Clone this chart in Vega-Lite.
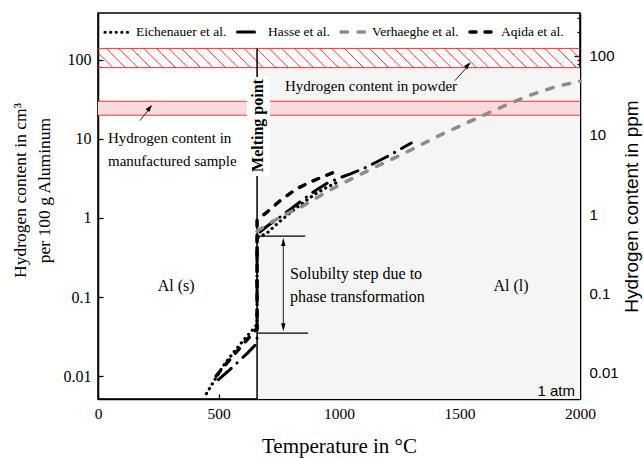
{
  "$schema": "https://vega.github.io/schema/vega-lite/v6.json",
  "width": 482,
  "height": 386,
  "autosize": {"type": "none"},
  "padding": {"left": 98, "top": 13, "right": 64, "bottom": 59},
  "background": "white",
  "config": {
    "view": {"stroke": "black", "strokeWidth": 1.5},
    "axis": {"grid": false, "ticks": true, "zindex": 1, "domainColor": "black", "domainWidth": 1.5, "tickColor": "black", "tickWidth": 1.3, "labelColor": "black", "titleColor": "black", "labelFont": "Liberation Serif", "titleFont": "Liberation Serif", "titleFontWeight": "normal"}
  },
  "layer": [
    {
      "encoding": {
        "x": {"field": "t", "type": "quantitative", "scale": {"domain": [0, 2000], "nice": false, "zero": false},
          "axis": {"values": [0, 500, 1000, 1500, 2000], "format": "d", "ticks": true, "tickSize": -5, "labelPadding": 12, "labelFontSize": 15.5, "labelFlush": false, "title": "Temperature in °C", "titleFontSize": 21, "titlePadding": 14}},
        "y": {"field": "v", "type": "quantitative", "scale": {"type": "log", "domain": [0.00512, 393], "nice": false},
          "axis": {"orient": "left", "values": [0.01, 0.1, 1, 10, 100], "format": "~g", "ticks": true, "tickSize": -5, "labelPadding": 12, "labelFontSize": 16, "title": ["Hydrogen content in cm³", "per 100 g Aluminum"], "titleFontSize": 17.5, "titleLineHeight": 24, "titlePadding": 10, "titleY": 177}}
      },
      "layer": [
        {
          "data": {"values": [{"t": 660, "t2": 2000, "v": 0.00512, "v2": 80}]},
          "mark": {"type": "rect", "fill": "#f5f5f5"},
          "encoding": {"x2": {"field": "t2"}, "y2": {"field": "v2"}}
        },
        {
          "data": {"values": [{"t": 0, "t2": 2000, "v": 20, "v2": 30}]},
          "mark": {"type": "rect", "fill": "#fadada"},
          "encoding": {"x2": {"field": "t2"}, "y2": {"field": "v2"}}
        },
        {
          "data": {"values": [
            {"t": -70, "t2": 10, "v": 140, "v2": 80}, {"t": -18, "t2": 62, "v": 140, "v2": 80}, {"t": 34, "t2": 114, "v": 140, "v2": 80}, {"t": 86, "t2": 166, "v": 140, "v2": 80},
            {"t": 138, "t2": 218, "v": 140, "v2": 80}, {"t": 190, "t2": 270, "v": 140, "v2": 80}, {"t": 242, "t2": 322, "v": 140, "v2": 80}, {"t": 294, "t2": 374, "v": 140, "v2": 80},
            {"t": 346, "t2": 426, "v": 140, "v2": 80}, {"t": 398, "t2": 478, "v": 140, "v2": 80}, {"t": 450, "t2": 530, "v": 140, "v2": 80}, {"t": 502, "t2": 582, "v": 140, "v2": 80},
            {"t": 554, "t2": 634, "v": 140, "v2": 80}, {"t": 606, "t2": 686, "v": 140, "v2": 80}, {"t": 658, "t2": 738, "v": 140, "v2": 80}, {"t": 710, "t2": 790, "v": 140, "v2": 80},
            {"t": 762, "t2": 842, "v": 140, "v2": 80}, {"t": 814, "t2": 894, "v": 140, "v2": 80}, {"t": 866, "t2": 946, "v": 140, "v2": 80}, {"t": 918, "t2": 998, "v": 140, "v2": 80},
            {"t": 970, "t2": 1050, "v": 140, "v2": 80}, {"t": 1022, "t2": 1102, "v": 140, "v2": 80}, {"t": 1074, "t2": 1154, "v": 140, "v2": 80}, {"t": 1126, "t2": 1206, "v": 140, "v2": 80},
            {"t": 1178, "t2": 1258, "v": 140, "v2": 80}, {"t": 1230, "t2": 1310, "v": 140, "v2": 80}, {"t": 1282, "t2": 1362, "v": 140, "v2": 80}, {"t": 1334, "t2": 1414, "v": 140, "v2": 80},
            {"t": 1386, "t2": 1466, "v": 140, "v2": 80}, {"t": 1438, "t2": 1518, "v": 140, "v2": 80}, {"t": 1490, "t2": 1570, "v": 140, "v2": 80}, {"t": 1542, "t2": 1622, "v": 140, "v2": 80},
            {"t": 1594, "t2": 1674, "v": 140, "v2": 80}, {"t": 1646, "t2": 1726, "v": 140, "v2": 80}, {"t": 1698, "t2": 1778, "v": 140, "v2": 80}, {"t": 1750, "t2": 1830, "v": 140, "v2": 80},
            {"t": 1802, "t2": 1882, "v": 140, "v2": 80}, {"t": 1854, "t2": 1934, "v": 140, "v2": 80}, {"t": 1906, "t2": 1986, "v": 140, "v2": 80}, {"t": 1958, "t2": 2038, "v": 140, "v2": 80}
          ]},
          "mark": {"type": "rule", "color": "#ff3333", "strokeWidth": 1, "clip": true},
          "encoding": {"x2": {"field": "t2"}, "y2": {"field": "v2"}}
        },
        {
          "data": {"values": [{"t": 0, "t2": 2000, "v": 20}, {"t": 0, "t2": 2000, "v": 30}, {"t": 0, "t2": 2000, "v": 80}, {"t": 0, "t2": 2000, "v": 140}]},
          "mark": {"type": "rule", "color": "#ff3333", "strokeWidth": 1},
          "encoding": {"x2": {"field": "t2"}}
        },
        {
          "data": {"values": [{"t": 660, "v": 0.00512, "v2": 140}]},
          "mark": {"type": "rule", "color": "black", "strokeWidth": 1.5},
          "encoding": {"y2": {"field": "v2"}}
        },
        {
          "data": {"values": [{"t": 618, "t2": 714, "v": 3.4, "v2": 61}]},
          "mark": {"type": "rect", "fill": "white"},
          "encoding": {"x2": {"field": "t2"}, "y2": {"field": "v2"}}
        },
        {
          "data": {"values": [{"t": 664, "v": 14.8, "label": "Melting point"}]},
          "mark": {"type": "text", "angle": 270, "font": "Liberation Serif", "fontWeight": "bold", "fontSize": 16, "align": "center", "baseline": "middle", "color": "black"},
          "encoding": {"text": {"field": "label"}}
        },
        {
          "data": {"values": [{"t": 660, "t2": 860, "v": 0.59}, {"t": 660, "t2": 872, "v": 0.035}]},
          "mark": {"type": "rule", "color": "black", "strokeWidth": 1.2},
          "encoding": {"x2": {"field": "t2"}}
        },
        {
          "data": {"values": [
            {"t": 769, "v": 0.04, "t2": 769, "v2": 0.52},
            {"t": 1481, "v": 54.7, "t2": 1544, "v2": 90},
            {"t": 174, "v": 17.1, "t2": 222, "v2": 26}
          ]},
          "mark": {"type": "rule", "color": "#222222", "strokeWidth": 1},
          "encoding": {"x2": {"field": "t2"}, "y2": {"field": "v2"}}
        },
        {
          "data": {"values": [{"t": 769, "v": 0.56}]},
          "mark": {"type": "point", "shape": "M0,0 L0.28,1 L-0.28,1 Z", "filled": true, "color": "black", "opacity": 1, "size": 256, "angle": 0},
          "encoding": {}
        },
        {
          "data": {"values": [{"t": 769, "v": 0.037}]},
          "mark": {"type": "point", "shape": "M0,0 L0.28,1 L-0.28,1 Z", "filled": true, "color": "black", "opacity": 1, "size": 256, "angle": 180},
          "encoding": {}
        },
        {
          "data": {"values": [{"t": 1544, "v": 93.5}]},
          "mark": {"type": "point", "shape": "M0,0 L0.35,1 L-0.35,1 Z", "filled": true, "color": "black", "opacity": 1, "size": 196, "angle": 39},
          "encoding": {}
        },
        {
          "data": {"values": [{"t": 223, "v": 26.9}]},
          "mark": {"type": "point", "shape": "M0,0 L0.35,1 L-0.35,1 Z", "filled": true, "color": "black", "opacity": 1, "size": 196, "angle": 37},
          "encoding": {}
        },
        {
          "data": {"values": [
            {"study": "Eichenauer et al.", "i": 1, "t": 450, "v": 0.0060},
            {"study": "Eichenauer et al.", "i": 2, "t": 480, "v": 0.0085},
            {"study": "Eichenauer et al.", "i": 3, "t": 520, "v": 0.0135},
            {"study": "Eichenauer et al.", "i": 4, "t": 560, "v": 0.0195},
            {"study": "Eichenauer et al.", "i": 5, "t": 600, "v": 0.0275},
            {"study": "Eichenauer et al.", "i": 6, "t": 640, "v": 0.038},
            {"study": "Eichenauer et al.", "i": 7, "t": 660, "v": 0.045},
            {"study": "Eichenauer et al.", "i": 8, "t": 660, "v": 0.56},
            {"study": "Eichenauer et al.", "i": 9, "t": 700, "v": 0.64},
            {"study": "Eichenauer et al.", "i": 10, "t": 750, "v": 0.88},
            {"study": "Eichenauer et al.", "i": 11, "t": 800, "v": 1.18},
            {"study": "Eichenauer et al.", "i": 12, "t": 850, "v": 1.55},
            {"study": "Eichenauer et al.", "i": 13, "t": 900, "v": 2.0},
            {"study": "Eichenauer et al.", "i": 14, "t": 950, "v": 2.45},
            {"study": "Eichenauer et al.", "i": 15, "t": 1000, "v": 2.9},
            {"study": "Hasse et al.", "i": 1, "t": 500, "v": 0.0090},
            {"study": "Hasse et al.", "i": 2, "t": 540, "v": 0.0115},
            {"study": "Hasse et al.", "i": 3, "t": 580, "v": 0.0150},
            {"study": "Hasse et al.", "i": 4, "t": 620, "v": 0.0195},
            {"study": "Hasse et al.", "i": 5, "t": 660, "v": 0.026},
            {"study": "Hasse et al.", "i": 6, "t": 660, "v": 0.62},
            {"study": "Hasse et al.", "i": 7, "t": 700, "v": 0.78},
            {"study": "Hasse et al.", "i": 8, "t": 750, "v": 1.0},
            {"study": "Hasse et al.", "i": 9, "t": 800, "v": 1.3},
            {"study": "Hasse et al.", "i": 10, "t": 850, "v": 1.7},
            {"study": "Hasse et al.", "i": 11, "t": 900, "v": 2.2},
            {"study": "Hasse et al.", "i": 12, "t": 950, "v": 2.75},
            {"study": "Hasse et al.", "i": 13, "t": 1000, "v": 3.2},
            {"study": "Hasse et al.", "i": 14, "t": 1050, "v": 3.65},
            {"study": "Hasse et al.", "i": 15, "t": 1100, "v": 4.2},
            {"study": "Hasse et al.", "i": 16, "t": 1150, "v": 5.0},
            {"study": "Hasse et al.", "i": 17, "t": 1200, "v": 6.0},
            {"study": "Hasse et al.", "i": 18, "t": 1250, "v": 7.3},
            {"study": "Hasse et al.", "i": 19, "t": 1300, "v": 8.9},
            {"study": "Verhaeghe et al.", "i": 1, "t": 660, "v": 0.68},
            {"study": "Verhaeghe et al.", "i": 2, "t": 700, "v": 0.82},
            {"study": "Verhaeghe et al.", "i": 3, "t": 750, "v": 1.0},
            {"study": "Verhaeghe et al.", "i": 4, "t": 800, "v": 1.2},
            {"study": "Verhaeghe et al.", "i": 5, "t": 850, "v": 1.42},
            {"study": "Verhaeghe et al.", "i": 6, "t": 900, "v": 1.75},
            {"study": "Verhaeghe et al.", "i": 7, "t": 950, "v": 2.15},
            {"study": "Verhaeghe et al.", "i": 8, "t": 1000, "v": 2.6},
            {"study": "Verhaeghe et al.", "i": 9, "t": 1050, "v": 3.1},
            {"study": "Verhaeghe et al.", "i": 10, "t": 1100, "v": 3.7},
            {"study": "Verhaeghe et al.", "i": 11, "t": 1150, "v": 4.4},
            {"study": "Verhaeghe et al.", "i": 12, "t": 1200, "v": 5.2},
            {"study": "Verhaeghe et al.", "i": 13, "t": 1300, "v": 7.3},
            {"study": "Verhaeghe et al.", "i": 14, "t": 1400, "v": 10.5},
            {"study": "Verhaeghe et al.", "i": 15, "t": 1500, "v": 14.5},
            {"study": "Verhaeghe et al.", "i": 16, "t": 1600, "v": 20},
            {"study": "Verhaeghe et al.", "i": 17, "t": 1700, "v": 27.5},
            {"study": "Verhaeghe et al.", "i": 18, "t": 1800, "v": 36.5},
            {"study": "Verhaeghe et al.", "i": 19, "t": 1900, "v": 46},
            {"study": "Verhaeghe et al.", "i": 20, "t": 2000, "v": 54},
            {"study": "Aqida et al.", "i": 1, "t": 490, "v": 0.0100},
            {"study": "Aqida et al.", "i": 2, "t": 530, "v": 0.0140},
            {"study": "Aqida et al.", "i": 3, "t": 570, "v": 0.0195},
            {"study": "Aqida et al.", "i": 4, "t": 610, "v": 0.027},
            {"study": "Aqida et al.", "i": 5, "t": 660, "v": 0.040},
            {"study": "Aqida et al.", "i": 6, "t": 660, "v": 0.95},
            {"study": "Aqida et al.", "i": 7, "t": 700, "v": 1.18},
            {"study": "Aqida et al.", "i": 8, "t": 760, "v": 1.7},
            {"study": "Aqida et al.", "i": 9, "t": 820, "v": 2.3},
            {"study": "Aqida et al.", "i": 10, "t": 880, "v": 2.85},
            {"study": "Aqida et al.", "i": 11, "t": 940, "v": 3.4},
            {"study": "Aqida et al.", "i": 12, "t": 990, "v": 3.9}
          ]},
          "mark": {"type": "line", "strokeCap": "round"},
          "encoding": {
            "order": {"field": "i", "type": "quantitative"},
            "color": {"field": "study", "type": "nominal",
              "scale": {"domain": ["Eichenauer et al.", "Hasse et al.", "Verhaeghe et al.", "Aqida et al."], "range": ["black", "black", "#8c8c8c", "black"]},
              "legend": {"title": null, "orient": "none", "legendX": 5, "legendY": 5, "direction": "horizontal", "symbolType": "stroke", "symbolSize": 576, "labelFont": "Liberation Serif", "labelFontSize": 13.5, "labelColor": "black", "labelOffset": 5, "columnPadding": 4, "padding": 0, "encode": {"symbols": {"update": {"strokeCap": {"value": "round"}}}}}},
            "strokeDash": {"field": "study", "type": "nominal",
              "scale": {"domain": ["Eichenauer et al.", "Hasse et al.", "Verhaeghe et al.", "Aqida et al."], "range": [[0.1, 5.5], [17, 8, 0.1, 8], [6.5, 10.5], [6, 9]]}},
            "strokeWidth": {"field": "study", "type": "nominal",
              "scale": {"type": "ordinal", "domain": ["Eichenauer et al.", "Hasse et al.", "Verhaeghe et al.", "Aqida et al."], "range": [3.2, 3, 3.5, 3.5]}}
          }
        },
        {
          "data": {"values": [
            {"t": 776, "v": 46.9, "label": "Hydrogen content in powder"},
            {"t": 41.5, "v": 10.27, "label": "Hydrogen content in"},
            {"t": 41.5, "v": 5.27, "label": "manufactured sample"}
          ]},
          "mark": {"type": "text", "font": "Liberation Serif", "fontSize": 15, "align": "left", "baseline": "middle", "color": "black"},
          "encoding": {"text": {"field": "label"}}
        },
        {
          "data": {"values": [
            {"t": 797, "v": 0.195, "label": "Solubilty step due to"},
            {"t": 797, "v": 0.1, "label": "phase transformation"}
          ]},
          "mark": {"type": "text", "font": "Liberation Serif", "fontSize": 16, "align": "left", "baseline": "middle", "color": "black"},
          "encoding": {"text": {"field": "label"}}
        },
        {
          "data": {"values": [
            {"t": 324, "v": 0.138, "label": "Al (s)"},
            {"t": 1714, "v": 0.138, "label": "Al (l)"}
          ]},
          "mark": {"type": "text", "font": "Liberation Serif", "fontSize": 16, "align": "center", "baseline": "middle", "color": "black"},
          "encoding": {"text": {"field": "label"}}
        },
        {
          "data": {"values": [{"t": 1979, "v": 0.0065, "label": "1 atm"}]},
          "mark": {"type": "text", "font": "Liberation Sans", "fontSize": 15, "align": "right", "baseline": "middle", "color": "black"},
          "encoding": {"text": {"field": "label"}}
        }
      ]
    },
    {
      "data": {"values": [{"ppm": 1}]},
      "mark": {"type": "point", "opacity": 0},
      "encoding": {
        "y": {"field": "ppm", "type": "quantitative", "scale": {"type": "log", "domain": [0.004557, 349.8], "nice": false},
          "axis": {"orient": "right",
            "values": [0.005, 0.006, 0.007, 0.008, 0.009, 0.01, 0.02, 0.03, 0.04, 0.05, 0.06, 0.07, 0.08, 0.09, 0.1, 0.2, 0.3, 0.4, 0.5, 0.6, 0.7, 0.8, 0.9, 1, 2, 3, 4, 5, 6, 7, 8, 9, 10, 20, 30, 40, 50, 60, 70, 80, 90, 100, 200, 300],
            "format": "~g",
            "labelExpr": "indexof([0.01, 0.1, 1, 10, 100], datum.value) >= 0 ? datum.label : ''",
            "ticks": true,
            "tickSize": {"condition": {"test": "indexof([0.01, 0.1, 1, 10, 100], datum.value) >= 0", "value": -6}, "value": -3},
            "labelFont": "Liberation Sans", "labelFontSize": 15, "labelPadding": 15,
            "title": "Hydrogen content in ppm", "titleFont": "Liberation Sans", "titleFontSize": 19, "titleAngle": 270, "titleBaseline": "top", "titlePadding": 4}}
      }
    }
  ],
  "resolve": {"scale": {"y": "independent"}}
}
